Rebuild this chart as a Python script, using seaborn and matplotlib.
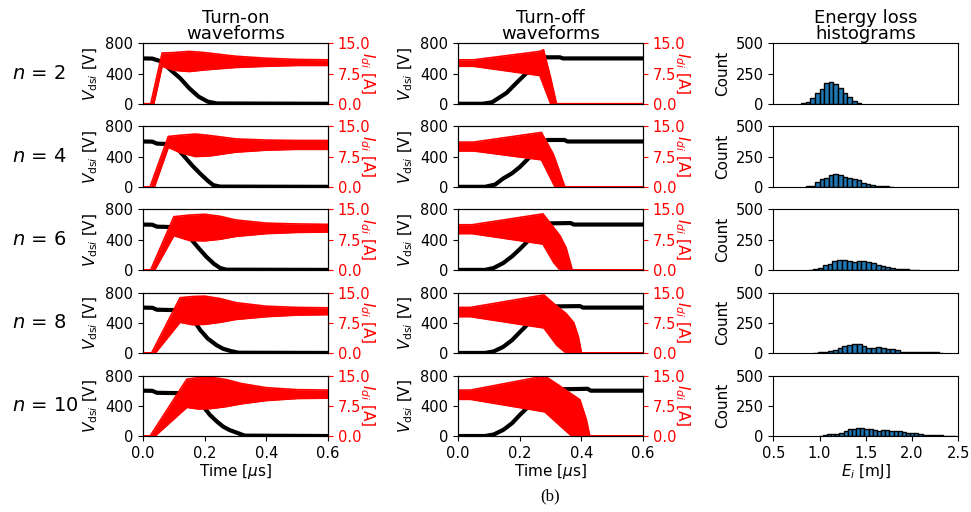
import numpy as np
import pandas as pd
import matplotlib
matplotlib.use("Agg")
import matplotlib.pyplot as plt
import seaborn as sns

# switching waveforms for different numbers of paralleled devices
n_values = [2, 4, 6, 8, 10]

# turn-on: drain current envelope (A)
on_time = [
    [0, 0.025, 0.035, 0.062, 0.10, 0.15, 0.20, 0.30, 0.40, 0.50, 0.60],
    [0, 0.023, 0.037, 0.082, 0.12, 0.17, 0.22, 0.30, 0.40, 0.50, 0.60],
    [0, 0.025, 0.038, 0.100, 0.15, 0.20, 0.25, 0.30, 0.40, 0.50, 0.60],
    [0, 0.028, 0.040, 0.120, 0.16, 0.20, 0.25, 0.30, 0.40, 0.50, 0.60],
    [0, 0.023, 0.039, 0.142, 0.18, 0.22, 0.27, 0.32, 0.40, 0.50, 0.60],
]
on_upper = [
    [0, 0, 3.4, 12.6, 12.7, 13.0, 12.7, 11.8, 11.3, 11.0, 10.9],
    [0, 0, 3.0, 12.5, 12.8, 13.1, 12.7, 11.9, 11.6, 11.5, 11.5],
    [0, 0, 2.3, 13.2, 13.6, 13.8, 13.3, 12.4, 11.6, 11.4, 11.3],
    [0, 0, 1.8, 13.7, 14.0, 14.1, 13.5, 12.5, 11.6, 11.3, 11.2],
    [0, 0, 1.9, 14.1, 14.5, 14.6, 14.0, 13.0, 12.0, 11.5, 11.4],
]
on_lower = [
    [0, 0, 0, 9.3, 8.3, 8.0, 8.4, 9.0, 9.3, 9.5, 9.5],
    [0, 0, 0, 9.8, 8.5, 7.5, 7.7, 8.6, 9.1, 9.3, 9.3],
    [0, 0, 0, 8.5, 7.3, 7.2, 7.6, 8.3, 9.0, 9.3, 9.4],
    [0, 0, 0, 7.6, 7.0, 7.1, 7.6, 8.3, 9.0, 9.4, 9.5],
    [0, 0, 0, 7.1, 6.7, 6.8, 7.3, 8.0, 8.8, 9.3, 9.4],
]
# turn-on: drain-source voltage (V)
on_vtime = [
    [0, 0.030, 0.045, 0.060, 0.090, 0.120, 0.150, 0.180, 0.210, 0.240, 0.60],
    [0, 0.030, 0.045, 0.090, 0.110, 0.131, 0.160, 0.185, 0.210, 0.228, 0.25, 0.60],
    [0, 0.030, 0.045, 0.110, 0.130, 0.155, 0.180, 0.205, 0.230, 0.250, 0.27, 0.60],
    [0, 0.030, 0.045, 0.136, 0.160, 0.185, 0.210, 0.238, 0.260, 0.283, 0.31, 0.60],
    [0, 0.030, 0.045, 0.150, 0.180, 0.217, 0.240, 0.260, 0.280, 0.304, 0.33, 0.60],
]
on_volt = [
    [600, 598, 578, 560, 445, 340, 205, 95, 28, 4, 0],
    [600, 598, 572, 565, 510, 416, 280, 176, 80, 22, 3, 0],
    [600, 598, 572, 565, 510, 410, 290, 175, 80, 25, 3, 0],
    [600, 598, 572, 565, 460, 306, 190, 104, 55, 27, 3, 0],
    [600, 598, 572, 565, 470, 279, 190, 124, 80, 44, 5, 0],
]

# turn-off: drain current envelope (A)
off_time = [
    [0, 0.050, 0.265, 0.277, 0.300, 0.319, 0.60],
    [0, 0.050, 0.270, 0.308, 0.314, 0.346, 0.60],
    [0, 0.045, 0.275, 0.310, 0.330, 0.350, 0.370, 0.60],
    [0, 0.040, 0.278, 0.320, 0.350, 0.375, 0.390, 0.400, 0.60],
    [0, 0.040, 0.281, 0.330, 0.368, 0.395, 0.416, 0.427, 0.60],
]
off_upper = [
    [10.9, 10.9, 13.0, 13.4, 6.4, 0, 0],
    [11.1, 11.1, 13.5, 8.2, 7.0, 0, 0],
    [11.2, 11.2, 13.9, 10.5, 8.5, 5.5, 0, 0],
    [11.3, 11.3, 14.4, 11.6, 9.8, 7.5, 4.0, 0, 0],
    [11.4, 11.4, 14.9, 12.4, 10.4, 9.0, 4.0, 0, 0],
]
off_lower = [
    [9.3, 9.3, 7.0, 4.6, 0, 0, 0],
    [8.9, 8.9, 6.7, 0.9, 0, 0, 0],
    [9.0, 9.0, 6.4, 1.8, 0, 0, 0, 0],
    [9.0, 9.0, 6.2, 1.9, 0, 0, 0, 0, 0],
    [9.1, 9.1, 6.0, 2.6, 0, 0, 0, 0, 0],
]
# turn-off: drain-source voltage (V)
off_vtime = [
    [0, 0.080, 0.110, 0.157, 0.190, 0.222, 0.250, 0.275, 0.285, 0.330, 0.340, 0.60],
    [0, 0.087, 0.120, 0.146, 0.175, 0.200, 0.232, 0.255, 0.276, 0.290, 0.345, 0.355, 0.60],
    [0, 0.087, 0.115, 0.146, 0.175, 0.200, 0.228, 0.254, 0.275, 0.290, 0.365, 0.375, 0.60],
    [0, 0.087, 0.115, 0.146, 0.175, 0.200, 0.228, 0.254, 0.275, 0.290, 0.395, 0.405, 0.60],
    [0, 0.087, 0.115, 0.146, 0.175, 0.200, 0.228, 0.254, 0.275, 0.290, 0.420, 0.430, 0.60],
]
off_volt = [
    [0, 0, 20, 144, 280, 407, 520, 590, 615, 615, 600, 600],
    [0, 0, 30, 110, 180, 262, 393, 500, 603, 620, 620, 600, 600],
    [0, 0, 25, 90, 180, 275, 390, 500, 575, 615, 620, 600, 600],
    [0, 0, 20, 80, 170, 275, 390, 500, 570, 615, 620, 600, 600],
    [0, 0, 20, 80, 170, 279, 390, 500, 570, 615, 625, 600, 600],
]

# energy loss histograms (mJ)
hist_start = [0.80, 0.85, 0.88, 0.935, 0.99]
hist_width = [0.05, 0.05, 0.052, 0.052, 0.045]
hist_counts = [
    [5, 18, 45, 85, 120, 175, 178, 162, 130, 92, 55, 22, 6],
    [5, 10, 40, 65, 72, 95, 108, 100, 85, 75, 68, 60, 35, 22, 15, 8, 5, 3, 2],
    [3, 5, 15, 40, 45, 75, 85, 80, 72, 68, 75, 72, 65, 55, 40, 30, 22, 12, 8, 6, 5, 3, 2],
    [3, 8, 12, 18, 25, 40, 55, 65, 75, 78, 55, 40, 45, 48, 45, 35, 30, 28, 12, 10, 8, 10, 8, 6, 5, 4, 3],
    [3, 5, 15, 15, 18, 25, 40, 58, 62, 68, 65, 60, 55, 48, 45, 48, 50, 42, 40, 38, 30, 28, 25, 25, 20, 12, 10, 8, 7, 5, 4, 3, 2],
]

TICK_FS = 10.5
LABEL_FS = 11

fig, axes = plt.subplots(5, 3, figsize=(9.71, 5.12), dpi=100)
fig.subplots_adjust(left=0.1473, right=0.9869, bottom=0.1484, top=0.9154,
                    hspace=0.374, wspace=0.703)


def draw_wave(ax, vt, v, it, lo, hi):
    sns.lineplot(x=vt, y=v, ax=ax, color="black", lw=3, estimator=None)
    ax.set_xlim(0, 0.6)
    ax.set_ylim(0, 800)
    ax.set_yticks([0, 400, 800])
    ax.set_ylabel(r"$V_{\mathrm{ds}i}$ [V]", fontsize=LABEL_FS)
    ax2 = ax.twinx()
    ax2.fill_between(it, lo, hi, color="red", lw=0)
    sns.lineplot(x=it, y=hi, ax=ax2, color="red", lw=1.2, estimator=None)
    sns.lineplot(x=it, y=lo, ax=ax2, color="red", lw=1.2, estimator=None)
    ax2.set_ylim(0, 15)
    ax2.set_yticks([0, 7.5, 15])
    ax2.tick_params(axis="y", colors="red", labelsize=TICK_FS)
    # rotated the "wrong" way, so it tucks in against the tick labels
    ax2.set_ylabel(r"$I_{di}$ [A]", color="red", rotation=270, fontsize=LABEL_FS)
    return ax2


for i, n in enumerate(n_values):
    draw_wave(axes[i, 0], on_vtime[i], on_volt[i], on_time[i], on_lower[i], on_upper[i])
    draw_wave(axes[i, 1], off_vtime[i], off_volt[i], off_time[i], off_lower[i], off_upper[i])

    ax = axes[i, 2]
    w = hist_width[i]
    edges = hist_start[i] + w * np.arange(len(hist_counts[i]) + 1)
    df = pd.DataFrame({"E": edges[:-1] + w / 2, "count": hist_counts[i]})
    sns.histplot(data=df, x="E", weights="count", bins=list(edges), ax=ax,
                 color="#1f77b4", alpha=1, edgecolor="black", linewidth=1)
    ax.set_xlim(0.5, 2.5)
    ax.set_ylim(0, 500)
    ax.set_yticks([0, 250, 500])
    ax.set_ylabel("Count", fontsize=LABEL_FS)
    ax.set_xticks([0.5, 1.0, 1.5, 2.0, 2.5])

    for ax in axes[i]:
        ax.tick_params(labelsize=TICK_FS)
        if i < 4:
            ax.tick_params(axis="x", bottom=False, labelbottom=False)
            ax.set_xlabel("")

    pos = axes[i, 0].get_position()
    fig.text(12 / 971, (pos.y0 + pos.y1) / 2, f"$n$ = {n}", fontsize=14,
             ha="left", va="center")

axes[4, 0].set_xlabel(r"Time [$\mu$s]", fontsize=LABEL_FS, labelpad=1)
axes[4, 1].set_xlabel(r"Time [$\mu$s]", fontsize=LABEL_FS, labelpad=1)
axes[4, 2].set_xlabel(r"$E_i$ [mJ]", fontsize=LABEL_FS, labelpad=1)

axes[0, 0].set_title("Turn-on\nwaveforms", fontsize=13, linespacing=0.85, pad=2)
axes[0, 1].set_title("Turn-off\nwaveforms", fontsize=13, linespacing=0.85, pad=2)
axes[0, 2].set_title("Energy loss\nhistograms", fontsize=13, linespacing=0.85, pad=2)

fig.text(550 / 971, 1 - 496 / 512, "(b)", family="Liberation Serif", fontsize=12,
         ha="center", va="center")

fig.savefig("out.png", dpi=100)
